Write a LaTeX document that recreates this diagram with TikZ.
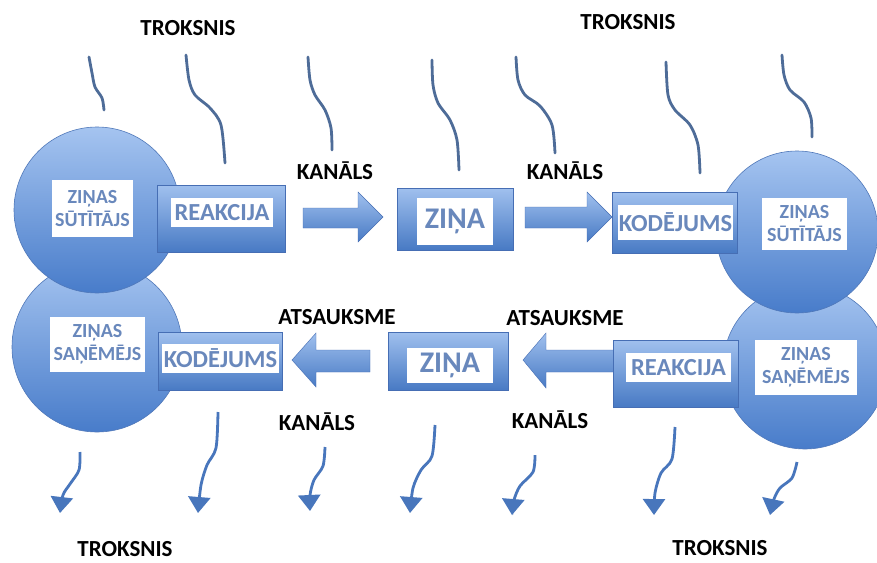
\documentclass[tikz,border=0pt]{standalone}
\usepackage{fontspec}
\setmainfont{Carlito}
\usetikzlibrary{arrows.meta}
\definecolor{circtop}{RGB}{165,196,240}
\definecolor{circbot}{RGB}{72,124,202}
\definecolor{circedge}{RGB}{80,120,185}
\definecolor{boxtop}{RGB}{160,192,238}
\definecolor{boxbot}{RGB}{72,122,196}
\definecolor{boxedge}{RGB}{70,110,180}
\definecolor{tagtext}{RGB}{105,136,188}
\definecolor{noisecol}{RGB}{78,108,152}
\definecolor{arrowcol}{RGB}{72,118,188}
\begin{document}
\begin{tikzpicture}[x=1pt,y=-1pt,
  blob/.style={circle, minimum size=#1, inner sep=0pt, draw=circedge, line width=0.6pt, top color=circtop, bottom color=circbot},
  panel/.style={rectangle, inner sep=0pt, draw=boxedge, line width=0.6pt, top color=boxtop, bottom color=boxbot},
  tag/.style={rectangle, fill=white, inner sep=0pt, text=tagtext, align=center, font=\bfseries\fontsize{24.5}{24.5}\selectfont},
  roundtag/.style={tag, font=\bfseries\fontsize{20}{23}\selectfont},
  bigtag/.style={tag, font=\bfseries\fontsize{30}{30}\selectfont},
  lbl/.style={font=\bfseries\fontsize{23}{23}\selectfont, text=black, inner sep=0pt},
  noise/.style={draw=noisecol, line width=2.8pt, line cap=round},
  noisearrow/.style={draw=arrowcol, line width=2.8pt, -{Triangle[width=22pt,length=16pt]}},
  blockarrow/.style={top color=boxtop, bottom color=boxbot, draw=boxedge, line width=0.4pt}
]
\useasboundingbox (0,0) rectangle (877,562);
\fill[white] (0,0) rectangle (877,562);

% circles
\node[blob=170pt] (recvL) at (97,347) {};
\node[blob=166pt] (sendL) at (97,210) {};
\node[blob=164pt] (recvR) at (805,367) {};
\node[blob=162pt] (sendR) at (797,232) {};

% noise lines (top)
\draw[noise] plot[smooth] coordinates {(89,57) (92,73) (95,87) (102,98) (104,110)};
\draw[noise] plot[smooth] coordinates {(186,55) (189,80) (195,95) (210,108) (221,125) (225,163)};
\draw[noise] plot[smooth] coordinates {(308,57) (310,80) (315,95) (325,110) (331,128) (332,150)};
\draw[noise] plot[smooth] coordinates {(432,60) (433,85) (438,103) (450,120) (457,140) (459,170)};
\draw[noise] plot[smooth] coordinates {(516,57) (518,80) (525,95) (540,106) (552,125) (555,153)};
\draw[noise] plot[smooth] coordinates {(666,62) (668,95) (675,110) (690,125) (698,145) (700,173)};
\draw[noise] plot[smooth] coordinates {(782,55) (784,75) (790,90) (804,102) (811,118) (812,137)};

% noise arrows (bottom)
\draw[noisearrow] plot[smooth] coordinates {(80,452) (79,470) (70,484) (63,495) (60,513)};
\draw[noisearrow] plot[smooth] coordinates {(218,412) (216,448) (207,465) (201,485) (198,513)};
\draw[noisearrow] plot[smooth] coordinates {(325,447) (323,466) (314,480) (310,495) (310,511)};
\draw[noisearrow] plot[smooth] coordinates {(435,425) (432,456) (421,470) (413,488) (410,513)};
\draw[noisearrow] plot[smooth] coordinates {(535,455) (533,472) (520,486) (514,500) (512,515)};
\draw[noisearrow] plot[smooth] coordinates {(675,427) (672,459) (661,473) (655,493) (654,515)};
\draw[noisearrow] plot[smooth] coordinates {(797,462) (792,478) (780,488) (774,499) (770,515)};

% block arrows
\shade[blockarrow] (303,208) -- (358,208) -- (358,192) -- (383,217) -- (358,242) -- (358,228) -- (303,228) -- cycle;
\shade[blockarrow] (525,207) -- (587,207) -- (587,192) -- (612,217) -- (587,242) -- (587,228) -- (525,228) -- cycle;
\shade[blockarrow] (370,350) -- (316,350) -- (316,333) -- (292,360) -- (316,387) -- (316,372) -- (370,372) -- cycle;
\shade[blockarrow] (620,350) -- (546,350) -- (546,333) -- (523,360) -- (546,388) -- (546,372) -- (620,372) -- cycle;

% boxes
\node[panel, minimum width=128pt, minimum height=67pt] (reakTbox) at (221,218.5) {};
\node[tag, minimum width=102pt, minimum height=29pt] (reakT) at (222,212.5) {REAKCIJA};
\node[panel, minimum width=116pt, minimum height=62pt] (zinaTbox) at (455,219) {};
\node[bigtag, minimum width=76pt, minimum height=47pt] (zinaT) at (455,221.5) {ZIŅA};
\node[panel, minimum width=125pt, minimum height=61pt] (kodTbox) at (674.5,222.5) {};
\node[tag, minimum width=115pt, minimum height=35pt] (kodT) at (675.5,222.5) {KODĒJUMS};

\node[panel, minimum width=124pt, minimum height=58pt] (kodBbox) at (220,361) {};
\node[tag, minimum width=117pt, minimum height=29pt] (kodB) at (220.5,358.5) {KODĒJUMS};
\node[panel, minimum width=120pt, minimum height=58pt] (zinaBbox) at (448,361) {};
\node[bigtag, minimum width=86pt, minimum height=35pt] (zinaB) at (450,365.5) {ZIŅA};
\node[panel, minimum width=125pt, minimum height=67pt] (reakBbox) at (675.5,373.5) {};
\node[tag, minimum width=105pt, minimum height=29pt] (reakB) at (678.5,367.5) {REAKCIJA};

% circle labels
\node[roundtag, minimum width=81pt, minimum height=57pt] (sendLt) at (92.5,208.5) {ZIŅAS\\SŪTĪTĀJS};
\node[roundtag, minimum width=85pt, minimum height=52pt] (sendRt) at (804.5,224) {ZIŅAS\\SŪTĪTĀJS};
\node[roundtag, minimum width=95pt, minimum height=55pt] (recvLt) at (97.5,344.5) {ZIŅAS\\SAŅĒMĒJS};
\node[roundtag, minimum width=102pt, minimum height=55pt] (recvRt) at (806,367.5) {ZIŅAS\\SAŅĒMĒJS};

% black labels
\node[lbl] (tr1) at (188,28) {TROKSNIS};
\node[lbl] (tr2) at (628,22) {TROKSNIS};
\node[lbl] (ka1) at (335,171) {KANĀLS};
\node[lbl] (ka2) at (565,171) {KANĀLS};
\node[lbl] (at1) at (337,317) {ATSAUKSME};
\node[lbl] (at2) at (565,318) {ATSAUKSME};
\node[lbl] (ka3) at (317,422) {KANĀLS};
\node[lbl] (ka4) at (550,420) {KANĀLS};
\node[lbl] (tr3) at (125,549) {TROKSNIS};
\node[lbl] (tr4) at (720,548) {TROKSNIS};
\end{tikzpicture}
\end{document}
